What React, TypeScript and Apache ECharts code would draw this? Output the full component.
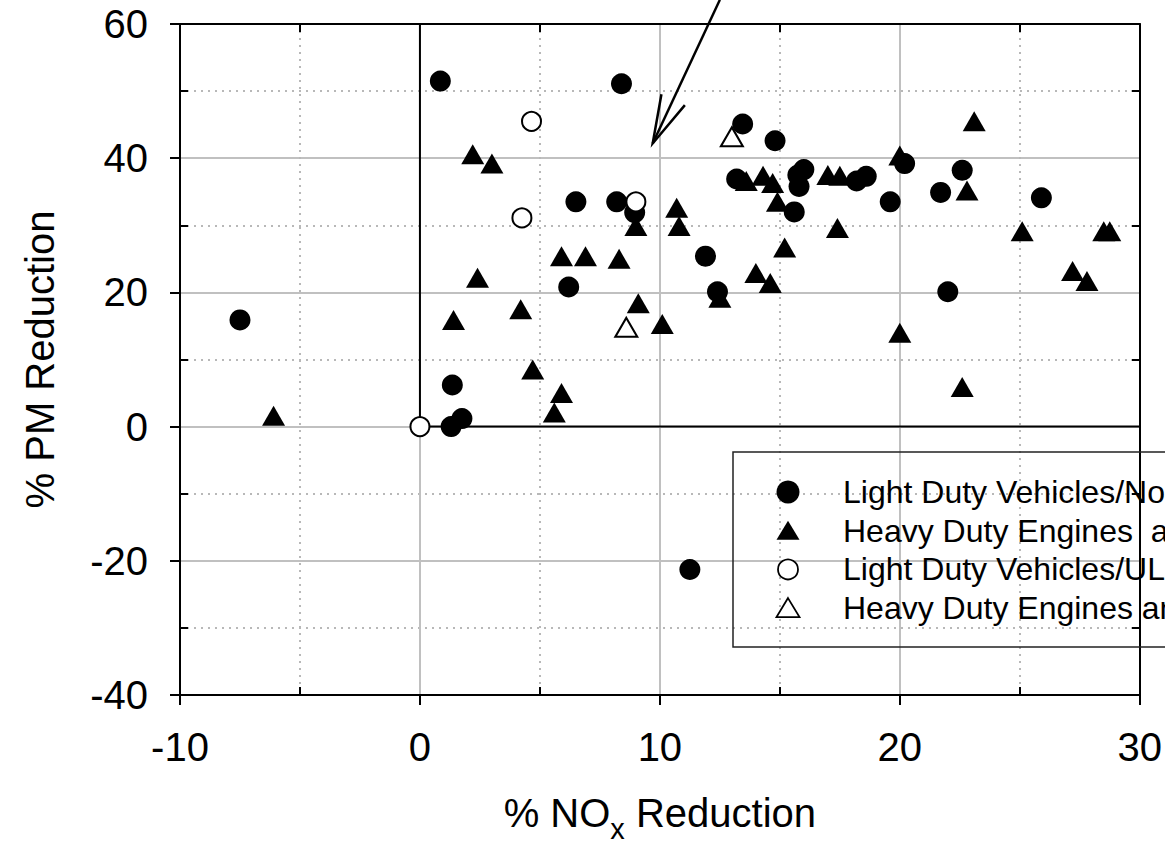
import React, { useEffect, useRef } from 'react';
import * as echarts from 'echarts';

const X_MIN = -10;
const X_MAX = 30;
const X_STEP = 10;
const Y_MIN = -40;
const Y_MAX = 60;
const Y_STEP = 20;
const X_MINOR = [-5, 5, 15, 25];
const Y_MINOR = [-30, -10, 10, 30, 50];

const SERIES_NAMES = [
  'Light Duty Vehicles/No',
  'Heavy Duty Engines  a',
  'Light Duty Vehicles/UL',
  'Heavy Duty Engines an',
];

// Light duty vehicles (filled circles)
const LDV_NO: [number, number][] = [
  [-7.5, 15.9], [0.85, 51.5], [8.4, 51.1], [13.45, 45.1], [14.8, 42.6], [22.6, 38.2],
  [20.2, 39.2], [16.0, 38.3], [15.75, 37.5], [15.8, 35.8], [15.6, 32.0], [13.2, 36.9],
  [18.2, 36.6], [18.6, 37.3], [19.6, 33.5], [21.7, 34.9], [25.9, 34.1], [22.0, 20.1],
  [11.25, -21.3], [6.5, 33.5], [8.2, 33.5], [8.95, 31.9], [6.2, 20.8], [11.9, 25.4],
  [12.4, 20.1], [1.35, 6.2], [1.3, 0.0], [1.75, 1.2],
];

// Heavy duty engines (filled triangles)
const HDE_A: [number, number][] = [
  [-6.1, 1.6], [1.4, 15.9], [2.2, 40.6], [3.0, 39.2], [2.4, 22.2], [4.2, 17.5],
  [4.7, 8.5], [5.9, 5.0], [5.6, 2.1], [5.9, 25.4], [6.9, 25.4], [8.3, 25.0],
  [9.0, 29.9], [9.1, 18.4], [10.1, 15.3], [10.7, 32.6], [10.8, 29.9], [12.5, 19.2],
  [13.6, 36.6], [14.3, 37.4], [14.7, 36.3], [14.9, 33.5], [14.0, 22.9], [14.6, 21.4],
  [15.2, 26.7], [17.0, 37.5], [17.5, 37.4], [17.4, 29.6], [20.0, 40.4], [20.0, 14.0],
  [22.6, 5.9], [22.8, 35.2], [23.1, 45.5], [25.1, 29.1], [27.2, 23.2], [27.8, 21.7],
  [28.5, 29.1], [28.75, 29.1],
];

// Light duty vehicles / UL (open circles)
const LDV_UL: [number, number][] = [
  [0, 0], [4.65, 45.5], [4.25, 31.1], [9.0, 33.5],
];

// Heavy duty engines an.. (open triangles)
const HDE_AN: [number, number][] = [
  [13.0, 43.2], [8.6, 14.8],
];

// black reference lines (x = 0 for y >= 0, y = 0 for x >= 0)
const REF_LINE: [number, number][] = [[0, 60], [0, 0], [30, 0]];

// annotation arrow, in data coordinates
const ARROW_TAIL: [number, number] = [12.5, 63.6];
const ARROW_TIP: [number, number] = [9.7, 42.2];

const FONT = "'Liberation Sans', Arial, Helvetica, sans-serif";

type Marker = 'dot' | 'tri' | 'ring' | 'openTri';
const LEGEND_MARKERS: Marker[] = ['dot', 'tri', 'ring', 'openTri'];

function legendGraphics(): any[] {
  const boxX = 733;
  const boxY = 452;
  const firstY = 492;
  const step = 38.7;
  const symX = 788;
  const textX = 843;
  const items: any[] = [
    {
      type: 'rect', silent: true, z: 20,
      shape: { x: boxX, y: boxY, width: 480, height: 195 },
      style: { fill: 'none', stroke: '#222', lineWidth: 1.5 },
    },
  ];
  SERIES_NAMES.forEach((name, i) => {
    const cy = firstY + i * step;
    const m = LEGEND_MARKERS[i];
    if (m === 'dot') {
      items.push({ type: 'circle', silent: true, z: 20, shape: { cx: symX, cy, r: 11.5 }, style: { fill: '#000' } });
    } else if (m === 'ring') {
      items.push({ type: 'circle', silent: true, z: 20, shape: { cx: symX, cy, r: 10 }, style: { fill: '#fff', stroke: '#000', lineWidth: 1.8 } });
    } else {
      const pts = [[symX, cy - 10], [symX + 11.5, cy + 9], [symX - 11.5, cy + 9]];
      items.push({
        type: 'polygon', silent: true, z: 20, shape: { points: pts },
        style: m === 'tri' ? { fill: '#000' } : { fill: '#fff', stroke: '#000', lineWidth: 1.8 },
      });
    }
    items.push({
      type: 'text', silent: true, z: 20, x: textX, y: cy,
      style: { text: name, fill: '#000', font: `32px ${FONT}`, align: 'left', verticalAlign: 'middle' },
    });
  });
  return items;
}

export default function App() {
  const ref = useRef<HTMLDivElement>(null);

  useEffect(() => {
    if (!ref.current) return;
    const chart = echarts.init(ref.current, null, { renderer: 'svg' });

    const grid = { left: 180, top: 24, right: 25, bottom: 154 };
    const black = { color: '#000', width: 2 };
    const major = { color: '#c0c0c0', width: 2 };
    const minor = { color: '#b8b8b8', width: 2, type: [2, 5] as any };

    const option: any = {
      animation: false,
      backgroundColor: '#fff',
      textStyle: { fontFamily: FONT },
      grid: [grid, grid],
      xAxis: [
        {
          type: 'value', gridIndex: 0, position: 'bottom',
          min: X_MIN, max: X_MAX, interval: X_STEP,
          axisLine: { show: true, onZero: false, lineStyle: black },
          axisTick: { show: true, inside: false, length: 10, lineStyle: black },
          axisLabel: { fontSize: 40, color: '#000', margin: 32, fontFamily: FONT },
          splitLine: { show: true, lineStyle: major },
          minorTick: { show: false, splitNumber: 2 },
          minorSplitLine: { show: true, lineStyle: minor },
          name: '% NO{sub|x} Reduction',
          nameLocation: 'middle',
          nameGap: 98,
          nameTextStyle: {
            fontSize: 40, color: '#000', fontFamily: FONT, lineHeight: 40,
            rich: {
              sub: { fontSize: 29, fontFamily: FONT, color: '#000', lineHeight: 29, padding: [32, 0, 0, 0] },
            },
          },
        },
        {
          type: 'value', gridIndex: 0, position: 'top',
          min: X_MIN, max: X_MAX, interval: X_STEP,
          axisLine: { show: true, onZero: false, lineStyle: black },
          axisTick: { show: true, inside: true, length: 8, lineStyle: black, customValues: X_MINOR },
          axisLabel: { show: false },
          splitLine: { show: false },
        },
        {
          type: 'value', gridIndex: 1, position: 'bottom',
          min: X_MIN, max: X_MAX, interval: X_STEP,
          axisLine: { show: false, onZero: false },
          axisTick: { show: true, inside: true, length: 8, lineStyle: black, customValues: X_MINOR },
          axisLabel: { show: false },
          splitLine: { show: false },
        },
      ],
      yAxis: [
        {
          type: 'value', gridIndex: 0, position: 'left',
          min: Y_MIN, max: Y_MAX, interval: Y_STEP,
          axisLine: { show: true, onZero: false, lineStyle: black },
          axisTick: { show: true, inside: false, length: 10, lineStyle: black },
          axisLabel: { fontSize: 40, color: '#000', margin: 32, fontFamily: FONT },
          splitLine: { show: true, lineStyle: major },
          minorTick: { show: false, splitNumber: 2 },
          minorSplitLine: { show: true, lineStyle: minor },
          name: '% PM Reduction',
          nameLocation: 'middle',
          nameGap: 120,
          nameTextStyle: { fontSize: 40, color: '#000', fontFamily: FONT },
        },
        {
          type: 'value', gridIndex: 0, position: 'right',
          min: Y_MIN, max: Y_MAX, interval: Y_STEP,
          axisLine: { show: true, onZero: false, lineStyle: black },
          axisTick: { show: true, inside: true, length: 8, lineStyle: black, customValues: Y_MINOR },
          axisLabel: { show: false },
          splitLine: { show: false },
        },
        {
          type: 'value', gridIndex: 1, position: 'left',
          min: Y_MIN, max: Y_MAX, interval: Y_STEP,
          axisLine: { show: false, onZero: false },
          axisTick: { show: true, inside: true, length: 8, lineStyle: black, customValues: Y_MINOR },
          axisLabel: { show: false },
          splitLine: { show: false },
        },
      ],
      legend: { show: false },
      series: [
        {
          name: 'ref',
          type: 'line',
          xAxisIndex: 0, yAxisIndex: 0,
          data: REF_LINE,
          symbol: 'none',
          silent: true,
          z: 2,
          lineStyle: { color: '#000', width: 2 },
        },
        {
          name: SERIES_NAMES[0], type: 'scatter', xAxisIndex: 0, yAxisIndex: 0, z: 3,
          symbol: 'circle', symbolSize: 21,
          itemStyle: { color: '#000', opacity: 1 },
          data: LDV_NO,
        },
        {
          name: SERIES_NAMES[1], type: 'scatter', xAxisIndex: 0, yAxisIndex: 0, z: 3,
          symbol: 'triangle', symbolSize: [23, 20],
          itemStyle: { color: '#000', opacity: 1 },
          data: HDE_A,
        },
        {
          name: SERIES_NAMES[2], type: 'scatter', xAxisIndex: 0, yAxisIndex: 0, z: 4,
          symbol: 'circle', symbolSize: 19,
          itemStyle: { color: '#fff', borderColor: '#000', borderWidth: 2, opacity: 1 },
          data: LDV_UL,
        },
        {
          name: SERIES_NAMES[3], type: 'scatter', xAxisIndex: 0, yAxisIndex: 0, z: 4,
          symbol: 'triangle', symbolSize: [22, 19],
          itemStyle: { color: '#fff', borderColor: '#000', borderWidth: 2, opacity: 1 },
          data: HDE_AN,
        },
      ],
    };

    chart.setOption(option);

    const graphics: any[] = legendGraphics();
    const tip = chart.convertToPixel({ gridIndex: 0 }, ARROW_TIP) as number[];
    const tail = chart.convertToPixel({ gridIndex: 0 }, ARROW_TAIL) as number[];
    if (tip && tail) {
      const ang = Math.atan2(tail[1] - tip[1], tail[0] - tip[0]);
      const len = 50;
      const spread = (15 * Math.PI) / 180;
      const w1 = [tip[0] + len * Math.cos(ang - spread), tip[1] + len * Math.sin(ang - spread)];
      const w2 = [tip[0] + len * Math.cos(ang + spread), tip[1] + len * Math.sin(ang + spread)];
      graphics.push(
        {
          type: 'polyline', silent: true, z: 10,
          shape: { points: [tail, tip] },
          style: { stroke: '#000', lineWidth: 2.5, fill: 'none' },
        },
        {
          type: 'polyline', silent: true, z: 10,
          shape: { points: [w1, tip, w2] },
          style: { stroke: '#000', lineWidth: 2.5, fill: 'none' },
        },
      );
    }
    chart.setOption({ graphic: graphics });

    return () => chart.dispose();
  }, []);

  return (
    <div
      ref={ref}
      style={{ position: 'absolute', left: 0, top: 0, width: 1165, height: 849, background: '#fff' }}
    />
  );
}
